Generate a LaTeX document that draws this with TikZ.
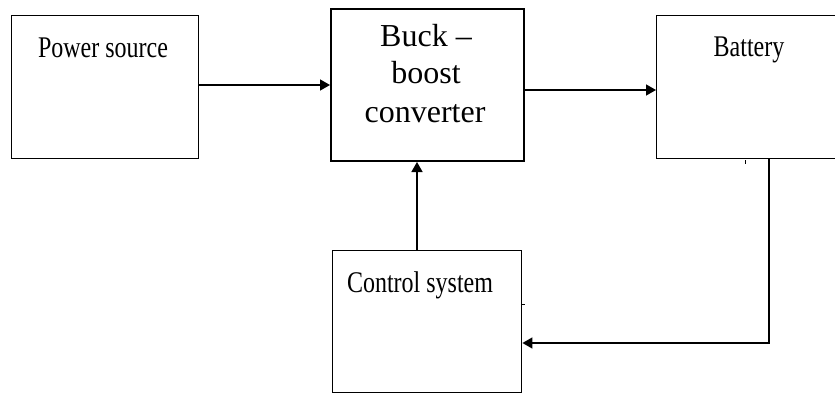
\documentclass[tikz,border=0pt]{standalone}
\usepackage{fontspec}
\setmainfont{Liberation Serif}
\usetikzlibrary{arrows.meta}
\begin{document}
\begin{tikzpicture}[x=1pt,y=-1pt,
  blk/.style={draw, line width=1.4pt, inner sep=0pt, anchor=north west},
  thickblk/.style={blk, line width=2pt},
  lbl/.style={anchor=base, inner sep=0pt, font=\fontsize{24}{28}\selectfont},
  big/.style={anchor=base, inner sep=0pt, font=\fontsize{32}{38}\selectfont},
  conn/.style={line width=1.4pt, -{Triangle[length=10pt,width=11pt]}},
  tick/.style={line width=1pt}]
\useasboundingbox (0,0) rectangle (835,393);
\clip (0,0) rectangle (835,393);
% boxes
\node[blk, minimum width=187pt, minimum height=143pt] (ps) at (11,15) {};
\node[thickblk, minimum width=193pt, minimum height=152pt] (bb) at (330,8) {};
\node[blk, minimum width=190pt, minimum height=143pt] (bat) at (656,15) {};
\node[blk, minimum width=189pt, minimum height=142pt] (cs) at (332,250) {};
% labels
\node[lbl] (pst) at (103,58) {\scalebox{1}[1.25]{Power source}};
\node[lbl] (batt) at (749,57) {\scalebox{1}[1.25]{Battery}};
\node[lbl] (cst) at (420,292) {\scalebox{1}[1.25]{Control system}};
\node[big] (bb1) at (426,47) {Buck --};
\node[big] (bb2) at (426,84) {boost};
\node[big] (bb3) at (425,123) {converter};
% connectors
\coordinate (fb1) at (769,158);
\coordinate (fb2) at (769,343);
\draw[conn] (ps.east |- 0,85) -- (bb.west |- 0,85);
\draw[conn] (bb.east |- 0,90) -- (bat.west |- 0,90);
\draw[conn] (cs.north -| 417,0) -- (bb.south -| 417,0);
\draw[conn] (fb1) -- (fb2) -- (cs.east |- fb2);
% small marks
\draw[tick] (cs.east |- 0,304) -- ++(3,0);
\draw[tick] (745,160) -- (745,164);
\end{tikzpicture}
\end{document}
